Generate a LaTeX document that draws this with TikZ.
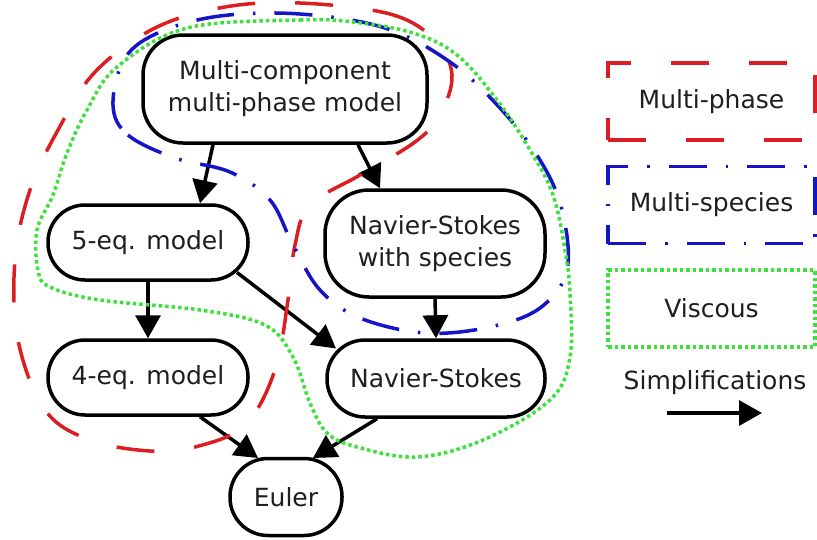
\documentclass[tikz,border=0pt]{standalone}
\usepackage{fontspec}
\setmainfont{DejaVu Sans}
\usetikzlibrary{arrows.meta,calc}
\definecolor{phasered}{RGB}{220,30,35}
\definecolor{specblue}{RGB}{20,20,200}
\definecolor{viscgreen}{RGB}{60,225,60}
\definecolor{txt}{RGB}{30,30,30}
\begin{document}
\begin{tikzpicture}[x=1pt,y=-1pt,
  font=\fontsize{25}{32}\selectfont,
  model/.style={draw, line width=3.5pt, rounded corners=37pt, fill=white, align=center, inner sep=0pt, text=txt},
  arr/.style={line width=3.5pt, -{Triangle[length=23pt,width=25pt]}},
  phaseline/.style={draw=phasered, line width=3.5pt, dash pattern=on 38pt off 40pt},
  specline/.style={draw=specblue, line width=3.5pt, dash pattern=on 38pt off 19pt on 2.5pt off 19pt},
  viscline/.style={draw=viscgreen, line width=3.5pt, dash pattern=on 3.5pt off 3pt},
  legendbox/.style={minimum width=207pt, minimum height=77pt, inner sep=0pt, text=txt}]
\useasboundingbox (0,0) rectangle (817,539);

% models
\node[model, minimum width=284pt, minimum height=108pt, rounded corners=40pt] (top) at (285,89) {Multi-component\\multi-phase model};
\node[model, minimum width=200pt, minimum height=75pt] (eq5) at (148,242.5) {5-eq. model};
\node[model, minimum width=220pt, minimum height=107pt, rounded corners=44pt] (nss) at (435,243.5) {Navier-Stokes\\with species};
\node[model, minimum width=200pt, minimum height=75pt] (eq4) at (148,377.5) {4-eq. model};
\node[model, minimum width=218pt, minimum height=77pt, rounded corners=38pt] (ns) at (436,378.5) {Navier-Stokes};
\node[model, minimum width=112pt, minimum height=77pt, rounded corners=38pt] (euler) at (286,497) {Euler};

% simplifications
\draw[arr] ($(top.south)+(-72,0)$) -- ($(eq5.north)+(52,0)$);
\draw[arr] ($(top.south)+(73,0)$) -- ($(nss.north)+(-55,0)$);
\draw[arr] (eq5.south) -- (eq4.north);
\draw[arr] ($(eq5.center)+(89,30)$) -- ($(ns.center)+(-100,-30)$);
\draw[arr] (nss.south) -- (ns.north);
\draw[arr] ($(eq4.south)+(52,0)$) -- ($(euler.center)+(-28,-39)$);
\draw[arr] ($(ns.south)+(-59,0)$) -- ($(euler.center)+(27,-39)$);

% regions
\draw[phaseline] plot[smooth cycle, tension=0.6] coordinates {
  (300,3) (390,14) (435,40) (452,75) (440,115) (415,142) (360,175) (310,205)
  (295,245) (288,300) (275,370) (245,425) (195,447) (150,451) (90,440) (45,410)
  (18,340) (15,260) (30,190) (58,130) (95,72) (155,28) (225,7)};
\draw[specline] plot[smooth cycle, tension=0.6] coordinates {
  (113,105) (128,135) (175,158) (230,172) (270,200) (293,245) (320,290) (360,318)
  (425,333) (490,327) (540,308) (567,270) (562,210) (540,160) (500,108) (450,62)
  (385,28) (300,14) (220,16) (160,32) (125,58)};
\draw[viscline] plot[smooth cycle, tension=0.6] coordinates {
  (187,28) (300,20) (353,22) (413,33) (457,55) (497,100) (530,150) (553,195)
  (565,250) (570,293) (570,357) (550,400) (483,440) (417,457) (357,447) (327,433)
  (310,403) (293,357) (265,325) (200,310) (100,300) (50,287) (38,270) (37,230)
  (53,195) (67,153) (87,110) (117,67)};

% legend
\node[legendbox, phaseline] (lgphase) at (711.5,101.5) {Multi-phase};
\node[legendbox, specline] (lgspec) at (711.5,205) {Multi-species};
\node[legendbox, viscline] (lgvisc) at (711.5,308.5) {Viscous};
\node[text=txt] (lgsimp) at (715,383) {Simplifications};
\coordinate (simpA) at (667,413);
\coordinate (simpB) at (762,413);
\draw[arr] (simpA) -- (simpB);
\end{tikzpicture}
\end{document}
